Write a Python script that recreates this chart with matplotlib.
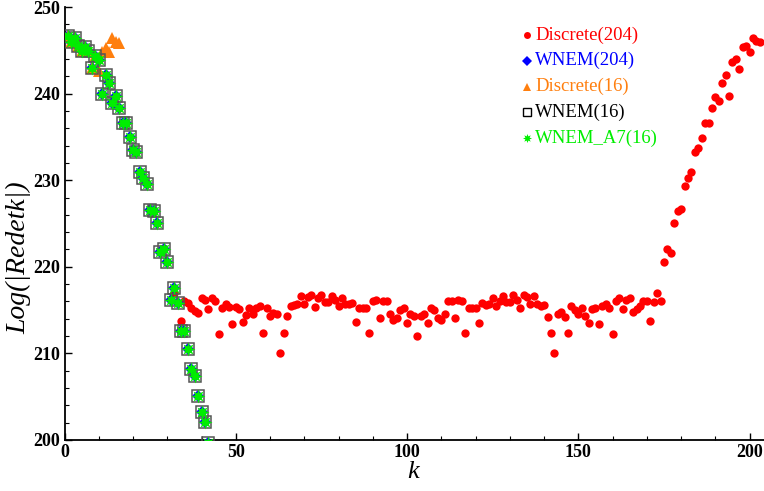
import numpy as np
import matplotlib
matplotlib.use("Agg")
import matplotlib.pyplot as plt
from matplotlib.ticker import MultipleLocator

# ---------------- data ----------------
# WNEM(16) / WNEM_A7(16) / WNEM(204): descending branch, k = 1..42
k_wnem = list(range(1, 43))
y_wnem = [246.6, 246.0, 246.4, 245.5, 244.9, 245.4, 244.9, 242.9, 244.3, 243.9,
          239.9, 242.1, 241.2, 238.9, 239.7, 238.3, 236.6, 236.6, 235.0, 233.5,
          233.2, 231.0, 230.2, 229.6, 226.6, 226.4, 225.1, 221.7, 222.1, 220.6,
          216.2, 217.5, 215.8, 212.6, 212.6, 210.5, 208.2, 207.4, 205.1, 203.2,
          202.1, 199.7]

# Discrete(16): k = 1..16
k_d16 = list(range(1, 17))
y_d16 = [246.6, 246.0, 246.4, 245.5, 244.9, 245.4, 244.9, 242.9, 244.3, 242.6,
         244.8, 245.3, 244.8, 246.4, 246.0, 245.8]

# Discrete(204): k = 1..203
y_d204_head = [246.6, 246.0, 246.4, 245.5, 244.9, 245.4, 244.9, 242.9, 244.3, 243.9,
               239.9, 242.1, 241.2, 238.9, 239.7, 238.3, 236.6, 236.6, 235.0, 233.5,
               233.2, 231.0, 230.2, 229.6, 226.6, 226.4, 225.1, 221.7, 222.1, 220.6,
               216.2, 217.0, 215.8]                      # k = 1..33
y_d204_mid1 = [213.7, 216.0, 215.8, 215.2, 214.9, 214.7, 216.4, 216.2, 215.1, 216.4,
               216.0, 212.2, 215.3, 215.7, 215.4, 213.4, 215.4, 215.1, 213.6, 214.4,
               215.2, 214.6, 215.2, 215.5, 212.3, 215.3, 214.3, 214.7, 214.6, 210.1,
               212.3, 214.3, 215.5, 215.6, 215.7, 216.6, 215.7, 216.5, 216.8, 215.4,
               216.4, 216.7, 215.9, 215.9, 216.6, 216.2, 215.5, 216.4, 215.7, 215.7,
               215.8, 213.6, 215.2, 215.2, 215.2, 212.3, 216.0, 216.2, 214.1]  # k = 34..92
y_d204_mid2 = [216.0, 216.0, 214.5, 213.9, 214.1, 215.0, 215.3, 213.5, 214.6, 214.3,
               212.0, 214.3, 214.6, 213.5, 215.3, 215.0, 214.1, 213.9, 214.5, 216.0,
               216.0, 214.1, 216.2, 216.0, 212.3, 215.2, 215.3, 215.2, 213.5, 215.8,
               215.6, 215.7, 216.4, 215.5, 216.0, 216.6, 215.9, 215.9, 216.7, 216.2,
               215.3, 216.8, 216.5, 215.7, 216.6, 215.7, 215.5, 215.6, 214.2, 212.3,
               210.1, 214.6, 214.8, 214.2, 212.3]  # k = 93..147
y_d204_tail = [215.5, 215.0, 214.6, 215.2, 214.3, 213.5, 215.1, 215.3, 213.4, 215.5,
               215.7, 215.3, 212.2, 216.0, 216.4, 215.1, 216.2, 216.4, 214.8, 215.1,
               215.5, 216.0, 216.0, 213.7, 215.9, 217.0, 216.0, 220.6, 222.1, 221.6,
               225.1, 226.4, 226.7, 229.3, 230.2, 231.0, 233.2, 233.7, 234.9, 236.6,
               236.6, 238.3, 239.6, 239.1, 241.2, 242.2, 239.7, 243.6, 244.0, 242.8,
               245.4, 245.5, 244.8, 246.4, 246.1, 246.0]  # k = 148..203
y_d204 = y_d204_head + y_d204_mid1 + y_d204_mid2 + y_d204_tail
k_d204 = list(range(1, 1 + len(y_d204)))

x_ticks = [0, 50, 100, 150, 200]
y_ticks = [200, 210, 220, 230, 240, 250]

legend_labels = ["Discrete(204)", "WNEM(204)", "Discrete(16)", "WNEM(16)", "WNEM_A7(16)"]
legend_colors = ["#ff0000", "#0000ff", "#ff7f0e", "#000000", "#00ee00"]

# ---------------- figure ----------------
serif = ["Liberation Serif", "DejaVu Serif"]
fig = plt.figure(figsize=(7.64, 4.91), dpi=100)
ax = fig.add_axes([64.5 / 764, 51 / 491, (764 - 64.5) / 764, (440 - 7) / 491])

ax.plot(k_d204, y_d204, ls="none", marker="o", ms=6.0, mfc="#ff0000", mec="#ff0000", mew=0, zorder=2)
ax.plot(k_wnem, y_wnem, ls="none", marker="D", ms=6.5, mfc="#0000ff", mec="#0000ff", mew=0, zorder=3)
ax.plot(k_d16, y_d16, ls="none", marker="^", ms=9.0, mfc="#ff7f0e", mec="#ff7f0e", mew=0, zorder=4)
ax.plot(k_wnem, y_wnem, ls="none", marker="s", ms=9.0, mfc="none", mec="#555555", mew=1.1, zorder=5)
ax.plot(k_wnem, y_wnem, ls="none", marker=(8, 1, 0), ms=10.0, mfc="#00ee00", mec="#00ee00", mew=0, zorder=6)

ax.set_xlim(0, 204.2)
ax.set_ylim(200, 250)
ax.spines["top"].set_visible(False)
ax.spines["right"].set_visible(False)
for s in ("left", "bottom"):
    ax.spines[s].set_linewidth(1.3)
ax.set_xticks(x_ticks)
ax.set_yticks(y_ticks)
ax.xaxis.set_minor_locator(MultipleLocator(10))
ax.yaxis.set_minor_locator(MultipleLocator(2))
ax.tick_params(which="major", direction="in", length=5, width=1.0, pad=3)
ax.tick_params(which="minor", direction="in", length=3, width=0.8)
for lab in ax.get_xticklabels() + ax.get_yticklabels():
    lab.set_fontfamily(serif)
    lab.set_fontweight("bold")
    lab.set_fontsize(13)

ax.set_xlabel("k", fontfamily=serif, fontstyle="italic", fontsize=19)
ax.set_ylabel("Log(|Redetk|)", fontfamily=serif, fontstyle="italic", fontsize=20)
ax.xaxis.set_label_coords((413 - 64.5) / (764 - 64.5), -(472 - 440) / 433)
ax.yaxis.set_label_coords(-(64.5 - 19) / (764 - 64.5), (440 - 258) / 433)
ax.xaxis.label.set_va("center")
ax.yaxis.label.set_va("center")

# legend (manual, in figure pixels)
markers = [("o", 5.0), ("D", 5.0), ("^", 6.0), ("s", 6.0), ((8, 1, 0), 6.5)]
rows = [35, 60.7, 86.5, 112.3, 138.0]
for (m, ms), lab, col, ry in zip(markers, legend_labels, legend_colors, rows):
    fy = 1 - ry / 491
    if m == "s":
        ax.plot([526.7 / 764], [fy], transform=fig.transFigure, marker=m, ms=ms,
                mfc="none", mec="#000000", mew=1.0, ls="none", clip_on=False)
    else:
        ax.plot([526.7 / 764], [fy], transform=fig.transFigure, marker=m, ms=ms,
                mfc=col, mec=col, mew=0, ls="none", clip_on=False)
    fig.text(535 / 764, fy, lab, color=col, fontfamily=serif, fontsize=13.5, va="center", ha="left")

fig.savefig("out.png", dpi=100)
